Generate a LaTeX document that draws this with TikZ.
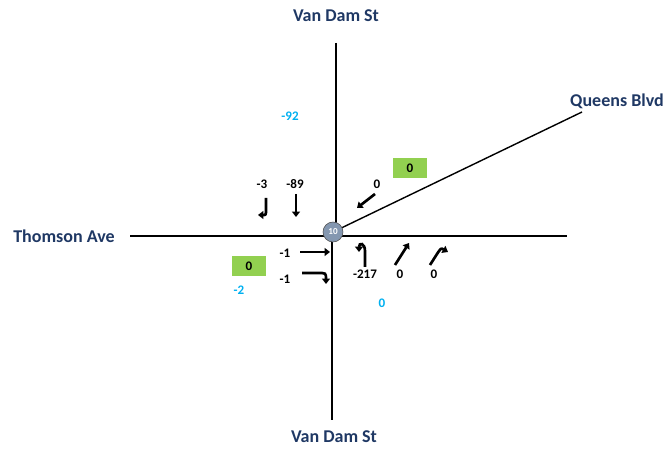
\documentclass[tikz,border=0pt]{standalone}
\usepackage{fontspec}
\setmainfont{Carlito}
\usetikzlibrary{arrows.meta,positioning}
\definecolor{navy}{HTML}{1F3864}
\definecolor{sky}{HTML}{00B0F0}
\definecolor{lime}{HTML}{92D050}
\definecolor{slate}{HTML}{8497B0}

\begin{document}
\begin{tikzpicture}[
  x=0.025cm, y=-0.025cm,
  road/.style={line width=1pt},
  mv/.style={line width=1.9pt, -{Triangle[length=3.8pt,width=5.6pt]}},
  nm/.style={font=\fontsize{12.8}{15}\selectfont\bfseries, text=navy},
  cnt/.style={font=\fontsize{9.3}{11}\selectfont\bfseries},
  dlt/.style={font=\fontsize{9.3}{11}\selectfont\bfseries, text=sky},
  bx/.style={fill=lime, minimum width=0.85cm, minimum height=0.5cm, inner sep=0pt,
    font=\fontsize{9.3}{11}\selectfont\bfseries}
]
  \useasboundingbox (0,0) rectangle (666,451);

  % street names
  \node[nm] (vdN)  at (336,16)  {Van Dam St};
  \node[nm] (vdS)  at (334,437) {Van Dam St};
  \node[nm] (thom) at (64,236)  {Thomson Ave};
  \node[nm] (qns)  at (617,101) {Queens Blvd};

  % road ends
  \coordinate (endN) at (336,43);
  \coordinate (endS) at (332,420);
  \coordinate (endW) at (130,236);
  \coordinate (endE) at (567,236);
  \coordinate (endQ) at (582,112);

  % roads
  \draw[road] (endN) -- (336,232);
  \draw[road] (endS) -- (332,232);
  \draw[road] (endW) -- (endE);
  \draw[road] (333,232) -- (endQ);

  % intersection
  \node[draw=black!70, fill=slate, circle, minimum size=0.5cm, inner sep=0pt,
    text=white, font=\fontsize{6.5}{7}\selectfont\bfseries] (ctr) at (333,232) {10};

  % boxes and deltas
  \node[bx] (bxNE) at (410,168) {0};
  \node[bx] (bxW)  at (249,266) {0};
  \node[dlt] (dN) at (290,116) {-92};
  \node[dlt] (dW) at (239,290) {-2};
  \node[dlt] (dS) at (382,303) {0};

  % counts
  \node[cnt] (sbL) at (262,184) {-3};
  \node[cnt] (sbT) at (295,184) {-89};
  \node[cnt] (qbL) at (377,184) {0};
  \node[cnt] (ebT) at (285,253) {-1};
  \node[cnt] (ebR) at (285,279) {-1};
  \node[cnt] (nbL) at (365,274) {-217};
  \node[cnt] (nbB) at (400,274) {0};
  \node[cnt] (nbR) at (434,274) {0};

  % movements
  \draw[mv] (266,198) -- (266,209) .. controls (266,215) .. (258,215);
  \draw[mv] (296,194) -- (296,217);
  \draw[mv] (375,194) -- (357,208);
  \draw[mv] (300,252) -- (330,252);
  \draw[mv] (302,273) -- (318,273) .. controls (326,273) .. (326,284);
  \draw[mv] (365,267) -- (365,251) .. controls (365,243) and (359,242) .. (359,252);
  \draw[mv] (395,265) -- (409,243);
  \draw[mv] (430,265) -- (437,254) .. controls (441,248) .. (448,252);
\end{tikzpicture}
\end{document}
